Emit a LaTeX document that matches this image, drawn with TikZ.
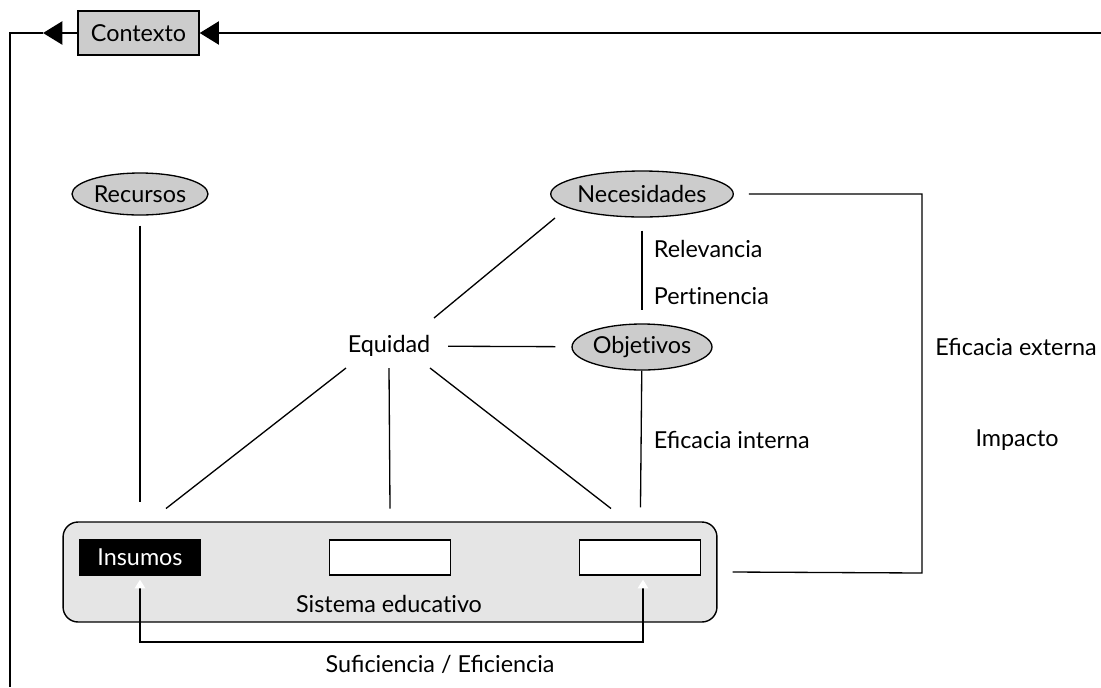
\documentclass[tikz,border=0pt]{standalone}
\usepackage{fontspec}
\setmainfont{Lato}
\usetikzlibrary{shapes.geometric,arrows.meta}

\begin{document}
\begin{tikzpicture}[x=0.02cm,y=-0.02cm,
        font=\fontsize{13.3}{15}\selectfont,
        ln/.style={line width=0.75pt},
        heavy/.style={line width=1.7pt},
        oval/.style={ellipse, draw, fill=black!20, line width=0.75pt, inner sep=0pt},
        tag/.style={inner sep=2pt},
        slot/.style={draw, fill=white, line width=0.75pt, minimum width=2.42cm, minimum height=0.7cm, inner sep=0pt},
        bigtip/.style={-{Triangle[length=11pt,width=13pt]}},
        wtip/.style={{Triangle[white,length=5pt,width=6pt]}-{Triangle[white,length=5pt,width=6pt]}}]

        \useasboundingbox (0,0) rectangle (1101,687);

        % context frame
        \node (ctx) [draw, fill=black!20, line width=0.75pt, minimum width=2.42cm, minimum height=0.88cm, inner sep=0pt] at (138.5,33) {Contexto};
        \coordinate (cR) at (1101,33);
        \coordinate (cL) at (43,33);
        \coordinate (cB) at (10,687);
        \draw[heavy, bigtip] (cR) -- (ctx.east);
        \draw[heavy, bigtip] (ctx.west) -- (cL);
        \draw[heavy] (cL) -| (cB);

        % ovals and labels
        \node (rec) [oval, minimum width=2.72cm, minimum height=0.84cm] at (140,194) {Recursos};
        \node (nec) [oval, minimum width=3.52cm, minimum height=0.92cm] at (642,194) {Necesidades};
        \node (obj) [oval, minimum width=2.8cm, minimum height=0.92cm] at (642,347) {Objet\kern0pt ivos};
        \node (eq) [tag] at (389,346) {Equidad};

        % system box
        \node (sis) [draw, rounded corners=0.3cm, fill=black!10, line width=0.8pt, minimum width=13.08cm, minimum height=2cm] at (390,572) {};
        \node (ins) [slot, fill=black, text=white, minimum width=2.42cm] at (140,557.5) {Insumos};
        \node (bxB) [slot] at (390,557.5) {};
        \node (bxC) [slot] at (640,557.5) {};
        \node (sisT) [tag] at (389,604) {Sistema educat\kern0pt ivo};

        % links
        \draw[ln, shorten <=0.2cm, shorten >=0.74cm] (rec) -- (ins);
        \draw[ln] ([shift={(45,-28)}]eq.center) -- ([shift={(-87,24)}]nec.center);
        \draw[ln, shorten <=0.28cm, shorten >=0.32cm] (eq) -- (obj);
        \draw[ln, shorten <=0.26cm, shorten >=0.26cm] (nec) -- (obj);
        \draw[ln, shorten >=0.64cm] (obj) -- (bxC);
        \draw[ln] ([shift={(-43,22)}]eq.center) -- ([shift={(26,-49)}]ins.center);
        \draw[ln] ([shift={(0,22)}]eq.center) -- ([shift={(0,-49)}]bxB.center);
        \draw[ln] ([shift={(41,22)}]eq.center) -- ([shift={(-29,-49)}]bxC.center);

        \node (relT) [tag, anchor=west] at (650,249) {Relevancia};
        \node (perT) [tag, anchor=west] at (650,296) {Pert\kern0pt inencia};
        \node (intT) [tag, anchor=west] at (650,440) {Eficacia interna};

        % external loop
        \coordinate (brk) at (922,573);
        \draw[ln, shorten <=0.3cm] (nec.east) -| (brk) -- ([xshift=0.3cm]sis.east);
        \node (extT) [tag] at (1016,347) {Eficacia externa};
        \node (impT) [tag] at (1017,440) {Impacto};

        % sufficiency loop
        \coordinate (sufM) at (390,642);
        \draw[ln, wtip] ([shift={(0,4)}]ins.south) |- (sufM) -| ([shift={(3,4)}]bxC.south);
        \node (sufT) [tag] at (440,664) {Suficiencia / Eficiencia};
\end{tikzpicture}
\end{document}
